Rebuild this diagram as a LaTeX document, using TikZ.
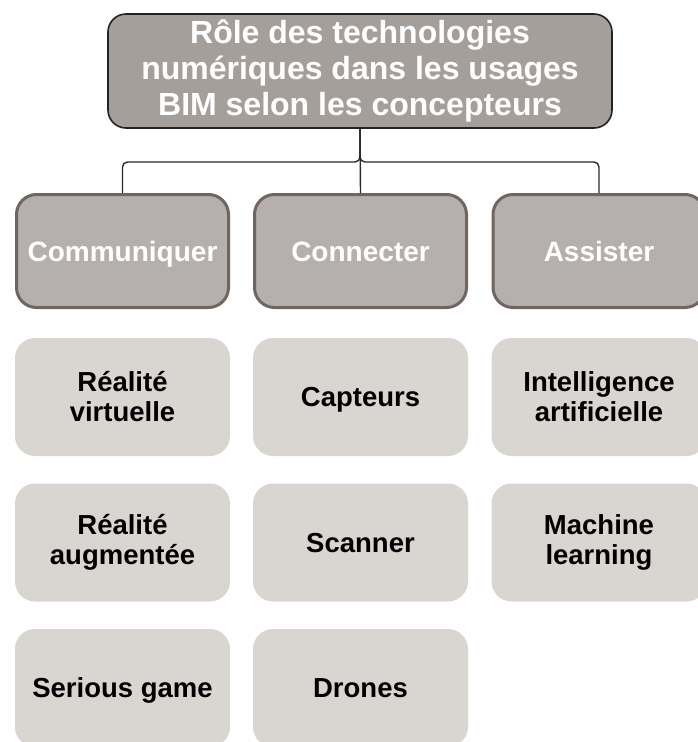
\documentclass[tikz,border=0pt]{standalone}
\usepackage{fontspec}
\setmainfont{Liberation Sans}
\usepackage{xcolor}
\usepackage{tikz}
\usetikzlibrary{positioning, calc}
\definecolor{titleGray}{RGB}{165, 159, 156}
\definecolor{titleEdge}{RGB}{35, 35, 38}
\definecolor{roleGray}{RGB}{181, 176, 173}
\definecolor{roleEdge}{RGB}{111, 102, 97}
\definecolor{techGray}{RGB}{217, 214, 210}
\definecolor{linkGray}{RGB}{40, 40, 45}
\tikzset{
  titlenode/.style={
    rectangle, rounded corners=18pt,
    draw=titleEdge, line width=1.6pt, fill=titleGray,
    minimum width=504pt, minimum height=114pt,
    align=center, text=white,
    font=\fontsize{32}{36}\selectfont\bfseries
  },
  rolenode/.style={
    rectangle, rounded corners=20pt,
    draw=roleEdge, line width=3pt, fill=roleGray,
    minimum width=212pt, minimum height=113pt,
    align=center, text=white,
    text height=20pt, text depth=0pt,
    font=\fontsize{28}{32}\selectfont\bfseries
  },
  technode/.style={
    rectangle, rounded corners=20pt,
    fill=techGray,
    minimum width=215pt, minimum height=118pt,
    align=center, text=black,
    font=\fontsize{27.5}{30}\selectfont\bfseries
  },
  oneline/.style={text height=19.5pt, text depth=0pt},
  link/.style={
    draw=linkGray, line width=1.4pt, rounded corners=5pt
  }
}

\begin{document}
\begin{tikzpicture}[x=1pt, y=-1pt]
  \useasboundingbox (0,0) rectangle (697,742);

  % column and row positions (pixels, y downwards)
  \def\xa{122.5}  \def\xb{360.5}  \def\xc{599}
  \def\ytop{71}  \def\yrole{251}
  \def\ya{397}  \def\yb{542.5}  \def\yc{688}

  % Title
  \node[titlenode] (title) at (360, \ytop)
    {R\^ole des technologies\\num\'eriques dans les usages\\BIM selon les concepteurs};

  % Roles
  \node[rolenode] (comm) at (\xa, \yrole) {Communiquer};
  \node[rolenode] (conn) at (\xb, \yrole) {Connecter};
  \node[rolenode] (assist) at (\xc, \yrole) {Assister};

  % Technologies
  \node[technode] (rv) at (\xa, \ya) {R\'ealit\'e\\virtuelle};
  \node[technode] (ra) at (\xa, \yb) {R\'ealit\'e\\augment\'ee};
  \node[technode, oneline] (sg) at (\xa, \yc) {Serious game};
  \node[technode, oneline] (capt) at (\xb, \ya) {Capteurs};
  \node[technode, oneline] (scan) at (\xb, \yb) {Scanner};
  \node[technode, oneline] (drone) at (\xb, \yc) {Drones};
  \node[technode] (ia) at (\xc, \ya) {Intelligence\\artificielle};
  \node[technode] (ml) at (\xc, \yb) {Machine\\learning};

  % Tree connectors
  \coordinate (split) at (title.south |- 0,162);
  \draw[link] (title.south) -- (split) -| (comm.north);
  \draw[link] (title.south) -- (split) -| (assist.north);
  \draw[link] (title.south) -- (conn.north);

\end{tikzpicture}
\end{document}
